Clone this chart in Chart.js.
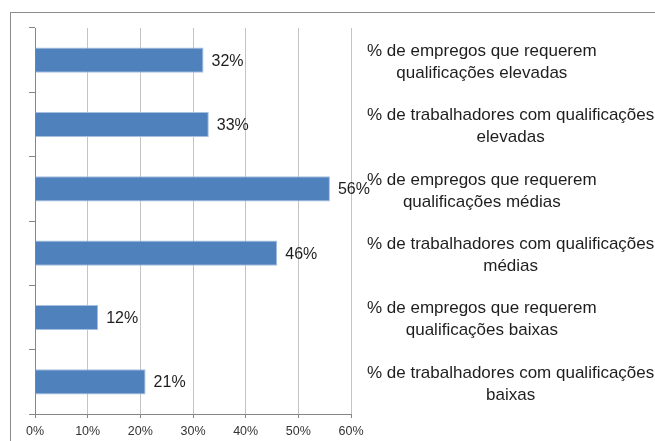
<!DOCTYPE html>
<html>
<head>
<meta charset="utf-8">
<script src="https://cdn.jsdelivr.net/npm/chart.js@4/dist/chart.umd.min.js"></script>
<style>
html, body { margin:0; padding:0; background:#fff; }
#wrap { width:655px; height:441px; }
</style>
</head>
<body>
<div id="wrap"><canvas id="chart" width="655" height="441"></canvas></div>
<script>
const categories = [
    ["% de empregos que requerem", "qualificações elevadas"],
    ["% de trabalhadores com qualificações", "elevadas"],
    ["% de empregos que requerem", "qualificações médias"],
    ["% de trabalhadores com qualificações", "médias"],
    ["% de empregos que requerem", "qualificações baixas"],
    ["% de trabalhadores com qualificações", "baixas"]
];
const values = [32, 33, 56, 46, 12, 21];
const xMin = 0;
const xMax = 60;
const xStep = 10;

const FONT = "'Liberation Sans', Arial, sans-serif";

// outer frame of the chart object
const framePlugin = {
    id: "frame",
    beforeDraw(chart){
        const ctx = chart.ctx;
        ctx.save();
        ctx.strokeStyle = "#8c8c8c";
        ctx.lineWidth = 1;
        ctx.strokeRect(10.5, 12.5, 1000, 1000);
        ctx.restore();
    }
};

// value labels next to bar ends
const valueLabels = {
    id: "valueLabels",
    afterDatasetsDraw(chart){
        const ctx = chart.ctx;
        const meta = chart.getDatasetMeta(0);
        ctx.save();
        ctx.font = "16px " + FONT;
        ctx.fillStyle = "#1e1e1e";
        ctx.textAlign = "left";
        ctx.textBaseline = "middle";
        meta.data.forEach((bar, i) => {
            ctx.fillText(values[i] + "%", bar.x + 8, bar.y + 1);
        });
        ctx.restore();
    }
};

// category labels on the right, each block left aligned, lines centred in the block
const categoryLabels = {
    id: "categoryLabels",
    afterDraw(chart){
        const ctx = chart.ctx;
        const yScale = chart.scales.y;
        const left = chart.chartArea.right + 16;
        const lineH = 22;
        ctx.save();
        ctx.font = "17px " + FONT;
        ctx.fillStyle = "#1e1e1e";
        ctx.textAlign = "center";
        ctx.textBaseline = "middle";
        categories.forEach((lines, i) => {
            const y = yScale.getPixelForValue(i) + 2;
            const w = Math.max(...lines.map(l => ctx.measureText(l).width));
            const cx = left + w / 2;
            lines.forEach((l, k) => {
                ctx.fillText(l, cx, y - (lines.length - 1) * lineH / 2 + k * lineH);
            });
        });
        ctx.restore();
    }
};

new Chart(document.getElementById("chart"), {
    type: "bar",
    data: {
        labels: categories.map(c => c.join(" ")),
        datasets: [{
            data: values,
            backgroundColor: "#4f81bd",
            borderColor: "#a7c0e0",
            borderWidth: 1,
            barPercentage: 0.39,
            categoryPercentage: 1
        }]
    },
    options: {
        indexAxis: "y",
        responsive: false,
        animation: false,
        layout: { padding: { top: 28, right: 304, left: 0, bottom: 0 } },
        plugins: { legend: { display: false }, tooltip: { enabled: false } },
        scales: {
            x: {
                min: xMin, max: xMax,
                ticks: {
                    stepSize: xStep,
                    callback: v => v + "%",
                    font: { family: FONT, size: 12.5 },
                    color: "#333",
                    padding: 6
                },
                grid: { color: "#c4c4c4", tickColor: "#868686", tickLength: 4 },
                border: { color: "#868686" },
                afterFit(s){ s.height = 27; }
            },
            y: {
                ticks: { display: false },
                grid: { offset: true, drawOnChartArea: false, tickLength: 6, color: "#868686" },
                border: { color: "#868686" },
                afterFit(s){ s.width = 35; }
            }
        }
    },
    plugins: [framePlugin, valueLabels, categoryLabels]
});
</script>
</body>
</html>
